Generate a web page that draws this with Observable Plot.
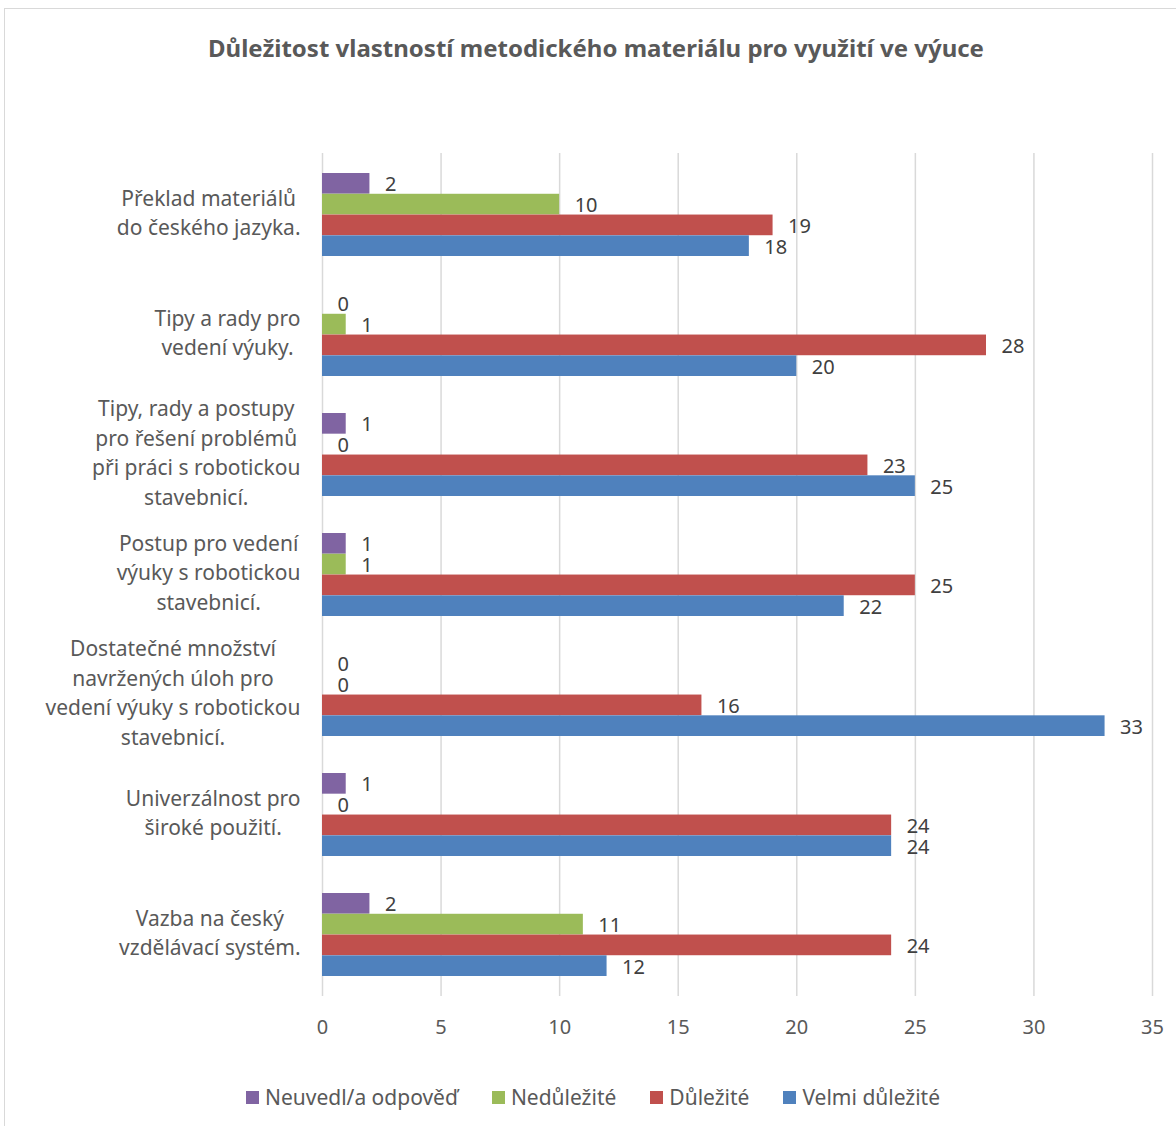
<!DOCTYPE html>
<html><head><meta charset="utf-8">
<script src="https://cdn.jsdelivr.net/npm/d3@7"></script>
<script src="https://cdn.jsdelivr.net/npm/@observablehq/plot@0.6"></script>
<style>
body{margin:0;width:1176px;height:1126px;overflow:hidden;background:#fff;font-family:"Noto Sans",sans-serif;position:relative}
#frame{position:absolute;left:4px;top:8px;width:1200px;height:1200px;border:1px solid #d9d9d9}
#title{position:absolute;left:8px;top:33px;width:1176px;text-align:center;font-weight:bold;font-size:24px;line-height:30px;color:#595959}
#chart{position:absolute;left:0;top:100px}
#legend{position:absolute;left:0;top:1083px;width:1186px;display:flex;justify-content:center;gap:34px;font-size:21px;color:#595959;line-height:28px}
#legend .it{display:flex;align-items:center}
#legend .sw{width:13px;height:13px;margin-right:6px}
</style></head><body>
<div id="frame"></div>
<div id="title"></div>
<div id="chart"></div>
<div id="legend"></div>
<script>
const title = "Důležitost vlastností metodického materiálu pro využití ve výuce";
const categories = [
  "Překlad materiálů\ndo českého jazyka.",
  "Tipy a rady pro\nvedení výuky.",
  "Tipy, rady a postupy\npro řešení problémů\npři práci s robotickou\nstavebnicí.",
  "Postup pro vedení\nvýuky s robotickou\nstavebnicí.",
  "Dostatečné množství\nnavržených úloh pro\nvedení výuky s robotickou\nstavebnicí.",
  "Univerzálnost pro\nširoké použití.",
  "Vazba na český\nvzdělávací systém."
];
const seriesNames = ["Neuvedl/a odpověď", "Nedůležité", "Důležité", "Velmi důležité"];
const seriesColors = ["#8064A2", "#9BBB59", "#C0504D", "#4F81BD"];
const neuvedl = [2, 0, 1, 1, 0, 1, 2];
const nedulezite = [10, 1, 0, 1, 0, 0, 11];
const dulezite = [19, 28, 23, 25, 16, 24, 24];
const velmiDulezite = [18, 20, 25, 22, 33, 24, 12];
const xTicks = [0, 5, 10, 15, 20, 25, 30, 35];

document.getElementById("title").textContent = title;

const seriesValues = [neuvedl, nedulezite, dulezite, velmiDulezite];
const W = 1176, H = 960, mT = 53, mB = 64, mL = 322, mR = 24;
const padIn = 0.31, padOut = 0.155;
const step = (H - mT - mB) / (categories.length - padIn + 2 * padOut);
const bw = step * (1 - padIn);
const bh = bw / 4;

const ctx = document.createElement("canvas").getContext("2d");
ctx.font = "21px 'Noto Sans'";
const labelW = c => Math.max(...c.split("\n").map(l => ctx.measureText(l).width));

const marks = [
  Plot.ruleX(xTicks, {stroke: "#d9d9d9", strokeWidth: 1.5})
];
seriesValues.forEach((vals, k) => {
  const data = categories.map((c, i) => ({cat: c, v: vals[i]}));
  marks.push(Plot.barX(data, {
    y: "cat", x: "v", fill: seriesColors[k],
    insetTop: k * bh, insetBottom: (3 - k) * bh
  }));
  marks.push(Plot.text(data, {
    y: "cat", x: "v", text: d => String(d.v), textAnchor: "start",
    dx: 15, dy: -bw / 2 + (k + 0.5) * bh + 1, fill: "#404040", fontSize: 20
  }));
});
categories.forEach(c => {
  marks.push(Plot.text([c], {
    y: d => d, frameAnchor: "left", text: d => d, textAnchor: "middle",
    dx: -(22 + labelW(c) / 2), dy: -4, fill: "#595959", fontSize: 21, lineHeight: 1.4
  }));
});

const chart = Plot.plot({
  width: W, height: H,
  marginTop: mT, marginBottom: mB, marginLeft: mL, marginRight: mR,
  style: {fontFamily: "'Noto Sans', sans-serif", background: "transparent"},
  x: {domain: [0, 35], ticks: xTicks, tickSize: 0, tickPadding: 23, label: null, fontSize: 20},
  y: {domain: categories, paddingInner: padIn, paddingOuter: padOut, axis: null},
  marks: [
    ...marks,
    Plot.axisX({ticks: xTicks, tickSize: 0, tickPadding: 23, label: null, fontSize: 20, color: "#595959"})
  ]
});
document.getElementById("chart").appendChild(chart);

const legend = document.getElementById("legend");
seriesNames.forEach((n, k) => {
  const it = document.createElement("div"); it.className = "it";
  const sw = document.createElement("span"); sw.className = "sw"; sw.style.background = seriesColors[k];
  const t = document.createElement("span"); t.textContent = n;
  it.appendChild(sw); it.appendChild(t); legend.appendChild(it);
});
</script>
</body></html>
